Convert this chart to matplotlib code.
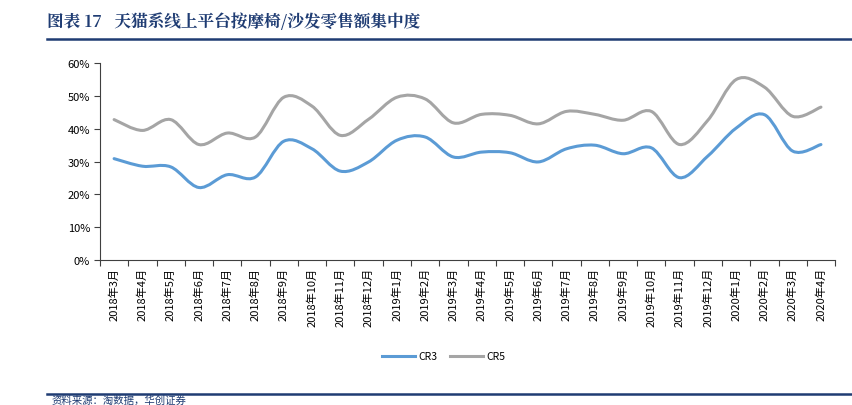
import matplotlib.pyplot as plt
import numpy as np
from matplotlib.path import Path
from matplotlib.patches import PathPatch
from matplotlib.lines import Line2D

plt.rcParams['font.family'] = ['Noto Sans CJK SC', 'DejaVu Sans']

months = ["2018年3月", "2018年4月", "2018年5月", "2018年6月", "2018年7月", "2018年8月",
          "2018年9月", "2018年10月", "2018年11月", "2018年12月", "2019年1月", "2019年2月",
          "2019年3月", "2019年4月", "2019年5月", "2019年6月", "2019年7月", "2019年8月",
          "2019年9月", "2019年10月", "2019年11月", "2019年12月", "2020年1月", "2020年2月",
          "2020年3月", "2020年4月"]
cr3 = [30.9, 28.6, 28.4, 22.1, 26.0, 25.3, 36.2, 33.9, 27.1, 29.9, 36.5, 37.5,
       31.4, 32.9, 32.7, 29.9, 33.9, 35.0, 32.4, 34.2, 25.1, 31.7, 40.2, 44.3,
       33.2, 35.2]
cr5 = [42.8, 39.5, 42.8, 35.2, 38.7, 37.5, 49.6, 46.9, 38.0, 42.9, 49.6, 49.1,
       41.8, 44.4, 44.1, 41.5, 45.3, 44.4, 42.6, 45.3, 35.2, 42.6, 55.0, 52.7,
       43.8, 46.6]
title = "图表 17   天猫系线上平台按摩椅/沙发零售额集中度"
source = "资料来源：淘数据，华创证券"

blue = "#5B9BD5"
grey = "#A5A5A5"
navy = "#1F3C73"


def smooth_path(x, y):
    # Excel-style smoothed line: Catmull-Rom segments as cubic Bezier curves
    pts = np.column_stack([x, y])
    n = len(pts)
    verts = [pts[0]]
    codes = [Path.MOVETO]
    for i in range(n - 1):
        p0 = pts[max(i - 1, 0)]
        p1 = pts[i]
        p2 = pts[i + 1]
        p3 = pts[min(i + 2, n - 1)]
        c1 = p1 + (p2 - p0) / 6
        c2 = p2 - (p3 - p1) / 6
        verts += [c1, c2, p2]
        codes += [Path.CURVE4] * 3
    return Path(verts, codes)


fig = plt.figure(figsize=(8.53, 4.06), dpi=100)
ax = fig.add_axes([0.1172, 0.357, 0.8618, 0.485])

x = np.arange(len(months))
for vals, col in [(cr3, blue), (cr5, grey)]:
    p = smooth_path(x, np.array(vals) / 100)
    ax.add_patch(PathPatch(p, facecolor="none", edgecolor=col, lw=2.2, capstyle="round"))

ax.set_xlim(-0.5, len(months) - 0.5)
ax.set_ylim(0, 0.6)
ax.set_yticks(np.arange(0, 0.61, 0.1))
ax.set_yticklabels([f"{int(round(t * 100))}%" for t in np.arange(0, 0.61, 0.1)], fontsize=8)
ax.set_xticks(np.arange(-0.5, len(months), 1))
ax.set_xticklabels([])
ax.set_xticks(x, minor=True)
ax.set_xticklabels(months, minor=True, rotation=90, fontsize=8)
ax.tick_params(axis="x", which="major", length=4, direction="out", color="#404040")
ax.tick_params(axis="x", which="minor", length=0, pad=5)
ax.tick_params(axis="y", length=4, direction="out", color="#404040", pad=3)
for s in ["top", "right"]:
    ax.spines[s].set_visible(False)
for s in ["left", "bottom"]:
    ax.spines[s].set_color("#404040")

handles = [Line2D([], [], color=blue, lw=2.2), Line2D([], [], color=grey, lw=2.2)]
fig.legend(handles, ["CR3", "CR5"], loc="center", bbox_to_anchor=(0.52, 0.12),
           ncol=2, frameon=False, fontsize=7.5, handlelength=3.2, columnspacing=1.2,
           handletextpad=0.3)

fig.text(0.055, 0.945, title, fontsize=12, fontweight="bold", color=navy, va="center",
         family=["Noto Serif CJK SC", "Noto Sans CJK SC", "DejaVu Sans"])
fig.add_artist(Line2D([0.055, 1.0], [0.902, 0.902], color=navy, lw=1.8))
fig.add_artist(Line2D([0.055, 1.0], [0.027, 0.027], color=navy, lw=1.8))
fig.text(0.06, 0.0, source, fontsize=7.5, color=navy, style="italic", va="bottom")

fig.savefig("out.png", dpi=100)
